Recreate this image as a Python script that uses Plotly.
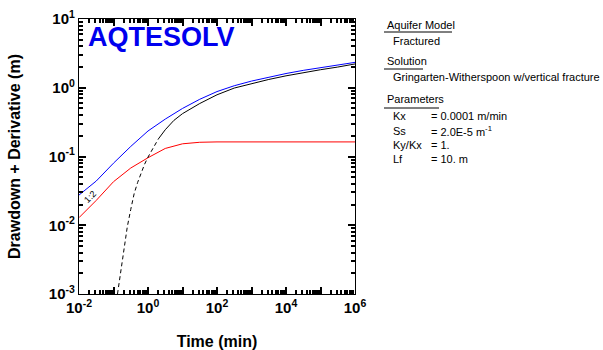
import plotly.graph_objects as go

# ---- data ----
blue_logt = [-2, -1.5, -1, -0.5, 0, 0.5, 1, 1.5, 2, 2.5, 3, 3.5, 4, 4.5, 5, 5.5, 6]
blue_s = [0.0275, 0.044, 0.08, 0.14, 0.235, 0.35, 0.5, 0.68, 0.88, 1.07, 1.25,
          1.43, 1.61, 1.79, 1.96, 2.15, 2.34]
red_logt = [-2, -1.5, -1, -0.5, 0, 0.5, 1, 1.5, 2, 3, 4, 5, 6]
red_s = [0.0129, 0.023, 0.043, 0.068, 0.096, 0.131, 0.153, 0.161, 0.163,
         0.163, 0.163, 0.163, 0.163]
blackd_logt = [-0.884, -0.8, -0.7, -0.6, -0.5, -0.4, -0.3, -0.2, -0.1, 0, 0.1, 0.2, 0.3]
blackd_s = [0.001, 0.0019, 0.0048, 0.0095, 0.017, 0.029, 0.042, 0.058, 0.077,
            0.098, 0.12, 0.147, 0.18]
blacks_logt = [0.3, 0.5, 0.75, 1, 1.5, 2, 2.5, 3, 3.5, 4, 4.5, 5, 5.5, 6]
blacks_s = [0.18, 0.245, 0.335, 0.42, 0.59, 0.79, 0.99, 1.15, 1.32, 1.49,
            1.66, 1.83, 2.0, 2.22]

x_exponents = [-2, -1, 0, 1, 2, 3, 4, 5, 6]
y_exponents = [-3, -2, -1, 0, 1]

headings = ["Aquifer Model", "Solution", "Parameters"]
heading_values = ["Fractured", "Gringarten-Witherspoon w/vertical fracture"]
param_names = ["Kx", "Ss", "Ky/Kx", "Lf"]
param_values = ["= 0.0001 m/min", "= 2.0E-5 m<sup>-1</sup>", "= 1.", "= 10. m"]

W, H = 603, 350
L, R, T, B = 79, 355, 19, 294


def px(x):
    return (x - L) / (R - L)


def py(y):
    return (B - y) / (B - T)


def tlist(logs):
    return [10 ** v for v in logs]


fig = go.Figure()
fig.add_trace(go.Scatter(x=tlist(blue_logt), y=blue_s, mode="lines",
                         line=dict(color="#0000ff", width=1), showlegend=False))
fig.add_trace(go.Scatter(x=tlist(red_logt), y=red_s, mode="lines",
                         line=dict(color="#ff0000", width=1), showlegend=False))
fig.add_trace(go.Scatter(x=tlist(blackd_logt), y=blackd_s, mode="lines",
                         line=dict(color="#000000", width=1, dash="4px,3px"),
                         showlegend=False))
fig.add_trace(go.Scatter(x=tlist(blacks_logt), y=blacks_s, mode="lines",
                         line=dict(color="#000000", width=1), showlegend=False))

xtickvals = [10.0 ** e for e in x_exponents]
xticktext = ["<b>10<sup>%d</sup></b>" % e if e % 2 == 0 else "" for e in x_exponents]
ytickvals = [10.0 ** e for e in y_exponents]
yticktext = ["<b>10<sup>%d</sup></b>" % e for e in y_exponents]

tickfont = dict(family="Liberation Sans", size=15, color="black")
axis_common = dict(
    type="log", showgrid=False, zeroline=False, showline=True, automargin=False,
    linecolor="black", linewidth=1.2, mirror="ticks",
    ticks="inside", ticklen=7, tickwidth=2, tickcolor="#000000",
    tickfont=tickfont,
    minor=dict(ticks="inside", ticklen=4, tickwidth=1.5, tickcolor="#000000", dtick="D1"),
)

fig.update_layout(
    width=W, height=H,
    margin=dict(l=L, r=W - R, t=T, b=H - B),
    paper_bgcolor="white", plot_bgcolor="white",
    font=dict(family="Liberation Sans", color="black"),
    xaxis=dict(range=[-2, 6], tickmode="array", tickvals=xtickvals, ticktext=xticktext,
               title=dict(text="<b>Time (min)</b>", font=dict(size=16, family="Liberation Sans"),
                          standoff=22),
               **axis_common),
    yaxis=dict(range=[-3, 1], tickmode="array", tickvals=ytickvals, ticktext=yticktext,
               title=dict(text="<b>Drawdown + Derivative (m)</b>",
                          font=dict(size=16, family="Liberation Sans"), standoff=24),
               **axis_common),
)

annotations = []
annotations.append(dict(x=px(86), y=py(37), xref="paper", yref="paper",
                        text="<b>AQTESOLV</b>", showarrow=False, xanchor="left",
                        yanchor="middle",
                        font=dict(family="Liberation Sans", size=27, color="#0000ee")))
annotations.append(dict(x=-1.68, y=-1.59, xref="x", yref="y", text="1:2",
                        showarrow=False, textangle=-45,
                        font=dict(family="Liberation Sans", size=9, color="black")))

panel_font = dict(family="Liberation Sans", size=11, color="black")
shapes = []
head_y = [25, 61, 99]
head_ul = [(32, 452), (69, 423), (108, 439)]
for txt, yy, (uy, ux1) in zip(headings, head_y, head_ul):
    annotations.append(dict(x=px(385), y=py(yy), xref="paper", yref="paper", text=txt,
                            showarrow=False, xanchor="left", yanchor="middle",
                            font=panel_font))
    shapes.append(dict(type="line", xref="paper", yref="paper",
                       x0=px(384), x1=px(ux1), y0=py(uy), y1=py(uy),
                       line=dict(color="black", width=1)))
for txt, yy in zip(heading_values, [41, 77]):
    annotations.append(dict(x=px(391), y=py(yy), xref="paper", yref="paper", text=txt,
                            showarrow=False, xanchor="left", yanchor="middle",
                            font=panel_font))

pys = [116, 130.5, 145, 158.5]
for name, val, yy in zip(param_names, param_values, pys):
    annotations.append(dict(x=px(391), y=py(yy), xref="paper", yref="paper", text=name,
                            showarrow=False, xanchor="left", yanchor="middle",
                            font=panel_font))
    annotations.append(dict(x=px(429), y=py(yy), xref="paper", yref="paper", text=val,
                            showarrow=False, xanchor="left", yanchor="middle",
                            font=panel_font))

fig.update_layout(annotations=annotations, shapes=shapes)
fig.write_html("out.html")
